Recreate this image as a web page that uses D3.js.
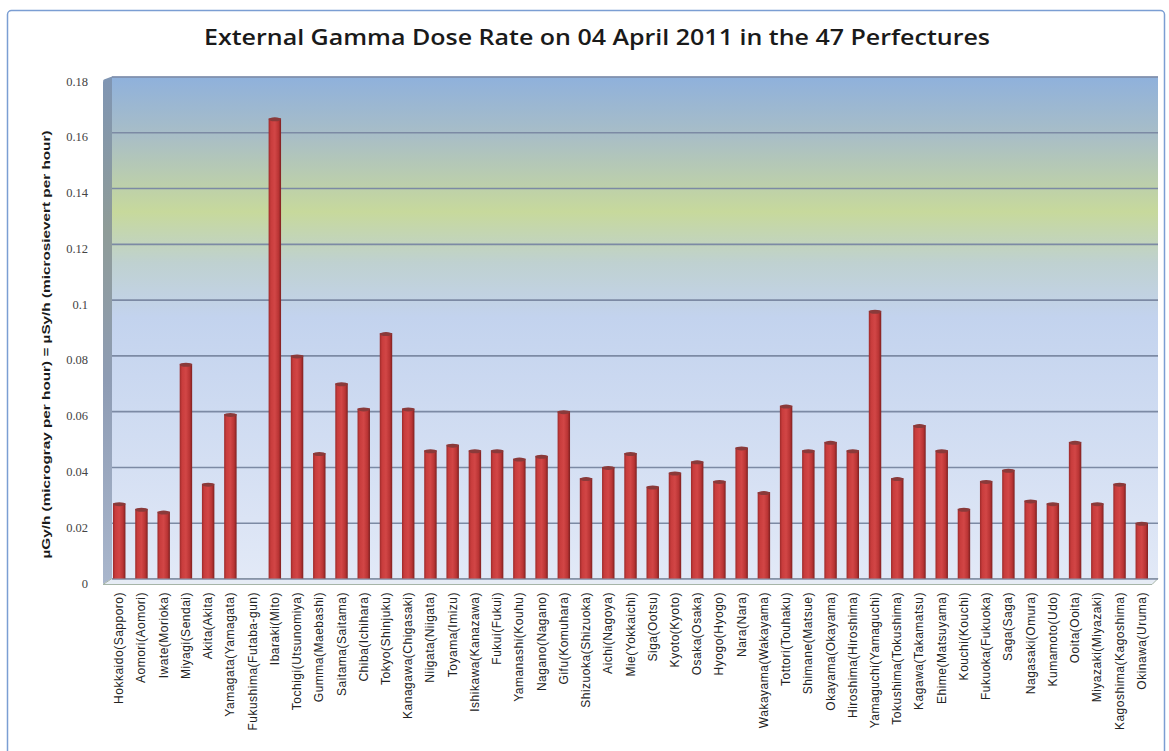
<!DOCTYPE html>
<html>
<head>
<meta charset="utf-8">
<script src="https://cdn.jsdelivr.net/npm/d3@7"></script>
<style>
  body { margin: 0; background: #fff; }
  svg { display: block; }
</style>
</head>
<body>
<div id="chart"></div>
<script>
const ancho = 1169
const alto = 751

// datos
const prefecturas = ["Hokkaido(Sapporo)", "Aomori(Aomori)", "Iwate(Morioka)", "Miyagi(Sendai)", "Akita(Akita)",
  "Yamagata(Yamagata)", "Fukushima(Futaba-gun)", "Ibaraki(Mito)", "Tochigi(Utsunomiya)", "Gumma(Maebashi)",
  "Saitama(Saitama)", "Chiba(Ichihara)", "Tokyo(Shinjuku)", "Kanagawa(Chigasaki)", "Niigata(Niigata)",
  "Toyama(Imizu)", "Ishikawa(Kanazawa)", "Fukui(Fukui)", "Yamanashi(Kouhu)", "Nagano(Nagano)",
  "Gifu(Komuhara)", "Shizuoka(Shizuoka)", "Aichi(Nagoya)", "Mie(Yokkaichi)", "Siga(Ootsu)",
  "Kyoto(Kyoto)", "Osaka(Osaka)", "Hyogo(Hyogo)", "Nara(Nara)", "Wakayama(Wakayama)",
  "Tottori(Touhaku)", "Shimane(Matsue)", "Okayama(Okayama)", "Hiroshima(Hiroshima)", "Yamaguchi(Yamaguchi)",
  "Tokushima(Tokushima)", "Kagawa(Takamatsu)", "Ehime(Matsuyama)", "Kouchi(Kouchi)", "Fukuoka(Fukuoka)",
  "Saga(Saga)", "Nagasaki(Omura)", "Kumamoto(Udo)", "Ooita(Ooita)", "Miyazaki(Miyazaki)",
  "Kagoshima(Kagoshima)", "Okinawa(Uruma)"]
const dosis = [0.027, 0.025, 0.024, 0.077, 0.034,
  0.059, null, 0.165, 0.080, 0.045,
  0.070, 0.061, 0.088, 0.061, 0.046,
  0.048, 0.046, 0.046, 0.043, 0.044,
  0.060, 0.036, 0.040, 0.045, 0.033,
  0.038, 0.042, 0.035, 0.047, 0.031,
  0.062, 0.046, 0.049, 0.046, 0.096,
  0.036, 0.055, 0.046, 0.025, 0.035,
  0.039, 0.028, 0.027, 0.049, 0.027,
  0.034, 0.020]
const ticksY = [0, 0.02, 0.04, 0.06, 0.08, 0.1, 0.12, 0.14, 0.16, 0.18]
const titulo = "External Gamma Dose Rate on 04 April 2011 in the 47 Perfectures"
const tituloY = "\u00b5Gy/h (microgray per hour) = \u00b5Sy/h (microsievert per hour)"

const data = prefecturas.map((p, i) => ({ nombre: p, valor: dosis[i] }))

const pared = { izq: 112, der: 1158, arriba: 76.5, abajo: 578.5 }

const svg = d3.select("#chart").append("svg")
    .attr("width", ancho)
    .attr("height", alto)

const defs = svg.append("defs")
const fondo = defs.append("linearGradient").attr("id", "fondo")
    .attr("x1", 0).attr("y1", 0).attr("x2", 0).attr("y2", 1)
;[[0, "#8fb1dc"], [0.12, "#a9bec6"], [0.27, "#c7d99c"], [0.37, "#bfd1d0"], [0.48, "#c3d3ee"], [1, "#e2e9f7"]]
  .forEach(s => fondo.append("stop").attr("offset", s[0]).attr("stop-color", s[1]))

const lado = defs.append("linearGradient").attr("id", "lado")
    .attr("x1", 0).attr("y1", 0).attr("x2", 0).attr("y2", 1)
;[[0, "#7f95b3"], [0.3, "#8f9c98"], [0.6, "#8e9cb4"], [1, "#a9b6cc"]]
  .forEach(s => lado.append("stop").attr("offset", s[0]).attr("stop-color", s[1]))

const barraGrad = defs.append("linearGradient").attr("id", "barra")
    .attr("x1", 0).attr("y1", 0).attr("x2", 1).attr("y2", 0)
;[[0, "#9c2a2a"], [0.18, "#c83c3c"], [0.5, "#d24646"], [0.8, "#b93434"], [1, "#7e2020"]]
  .forEach(s => barraGrad.append("stop").attr("offset", s[0]).attr("stop-color", s[1]))

// marco
svg.append("rect")
    .attr("x", 7.5).attr("y", 10.5)
    .attr("width", 1157).attr("height", 760)
    .attr("rx", 4)
    .attr("fill", "#fff")
    .attr("stroke", "#7b9ed3")
    .attr("stroke-width", 1.5)

// titulo
svg.append("text")
    .attr("x", 597).attr("y", 45)
    .attr("text-anchor", "middle")
    .attr("font-family", "'Open Sans', 'Liberation Sans', Arial, sans-serif")
    .attr("font-weight", 600)
    .attr("font-size", 21)
    .attr("textLength", 786)
    .attr("lengthAdjust", "spacingAndGlyphs")
    .attr("fill", "#1a1a1a")
    .text(titulo)

// escalas
const x = d3.scaleBand().domain(prefecturas)
    .range([103, 1158])
    .paddingInner(0.44).paddingOuter(0.45)
const y = d3.scaleLinear().domain([0, 0.18]).range([pared.abajo, pared.arriba])

// pared trasera
svg.append("rect")
    .attr("x", pared.izq).attr("y", pared.arriba)
    .attr("width", pared.der - pared.izq).attr("height", pared.abajo - pared.arriba)
    .attr("fill", "url(#fondo)")

// pared izquierda (efecto 3d)
svg.append("path")
    .attr("d", `M${pared.izq},${pared.arriba} L104,${pared.arriba + 3} Q103,${pared.arriba + 3} 103,${pared.arriba + 6} L103,584 L${pared.izq},${pared.abajo} Z`)
    .attr("fill", "url(#lado)")

// suelo
svg.append("path")
    .attr("d", `M${pared.izq},${pared.abajo} L${pared.der},${pared.abajo} L1152,584.5 L103,584.5 Z`)
    .attr("fill", "#e6ecf5")
    .attr("stroke", "#a6b5a8")
    .attr("stroke-width", 1)

// lineas de cuadricula
const ejeY = d3.axisLeft(y).tickValues(ticksY).tickSize(-(pared.der - pared.izq)).tickFormat("")
svg.append("g")
    .attr("transform", `translate(${pared.izq},0)`)
    .call(ejeY)
    .call(g => g.select(".domain").remove())
    .call(g => g.selectAll(".tick line")
        .attr("stroke", "#7c8aa4")
        .attr("stroke-width", 1.6))

// etiquetas eje y
svg.append("g").selectAll("text")
    .data(ticksY)
    .join("text")
    .attr("x", 88)
    .attr("y", d => y(d) + 9)
    .attr("text-anchor", "end")
    .attr("font-family", "'Liberation Serif', 'Times New Roman', serif")
    .attr("font-size", 12.5)
    .attr("fill", "#444")
    .text(d => d)

svg.append("text")
    .attr("transform", `translate(50,${(pared.arriba + pared.abajo) / 2 + 17}) rotate(-90)`)
    .attr("text-anchor", "middle")
    .attr("font-family", "'Liberation Sans', Arial, sans-serif")
    .attr("font-weight", "bold")
    .attr("font-size", 11.5)
    .attr("textLength", 428)
    .attr("lengthAdjust", "spacingAndGlyphs")
    .attr("fill", "#1a1a1a")
    .text(tituloY)

// barras
const barras = svg.append("g").selectAll("g")
    .data(data.filter(d => d.valor != null))
    .join("g")

barras.append("rect")
    .attr("x", d => x(d.nombre))
    .attr("y", d => y(d.valor))
    .attr("width", x.bandwidth())
    .attr("height", d => y(0) - y(d.valor))
    .attr("fill", "url(#barra)")

barras.append("ellipse")
    .attr("cx", d => x(d.nombre) + x.bandwidth() / 2)
    .attr("cy", d => y(d.valor) + 1)
    .attr("rx", x.bandwidth() / 2)
    .attr("ry", 2)
    .attr("fill", "#8a3a3a")

// etiquetas eje x
svg.append("g").selectAll("text")
    .data(prefecturas)
    .join("text")
    .attr("transform", d => `translate(${x(d) + x.bandwidth() / 2 + 4},592) rotate(-90)`)
    .attr("text-anchor", "end")
    .attr("font-family", "'Liberation Sans', Arial, sans-serif")
    .attr("font-size", 12)
    .attr("letter-spacing", 0.5)
    .attr("fill", "#222")
    .text(d => d)
</script>
</body>
</html>
